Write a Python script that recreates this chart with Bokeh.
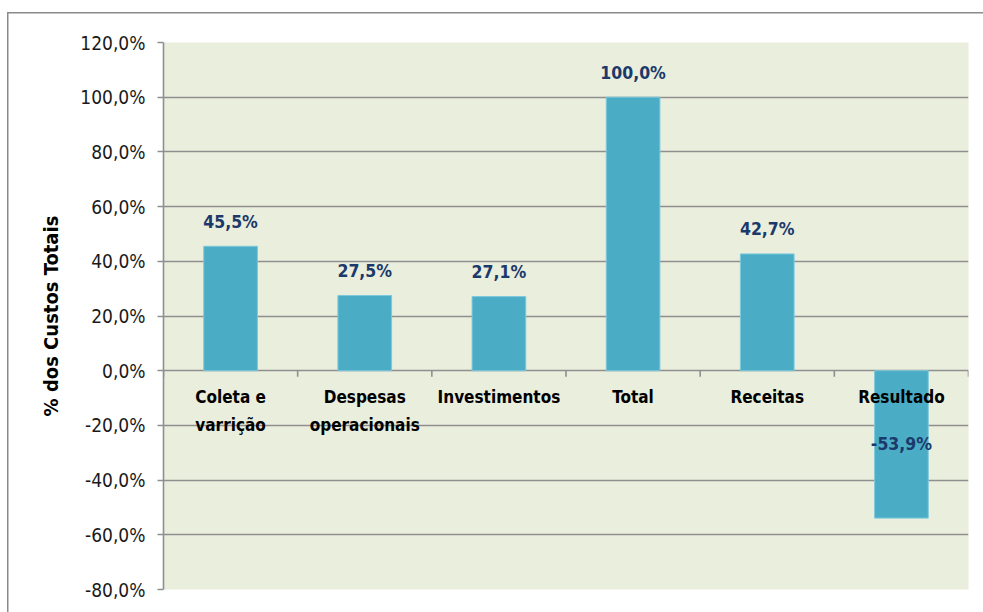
import numpy as np
from bokeh.plotting import figure
from bokeh.models import ColumnDataSource, Range1d, FixedTicker, CustomJSTickFormatter
from bokeh.core.properties import value
from bokeh.embed import file_html
from bokeh.resources import INLINE

# ---- data ----
categories = ["Coleta e\nvarrição", "Despesas\noperacionais", "Investimentos",
              "Total", "Receitas", "Resultado"]
values = [45.5, 27.5, 27.1, 100.0, 42.7, -53.9]
value_labels = ["45,5%", "27,5%", "27,1%", "100,0%", "42,7%", "-53,9%"]
y_ticks = [-80, -60, -40, -20, 0, 20, 40, 60, 80, 100, 120]
y_title = "% dos Custos Totais"

FONT = "DejaVu Sans Condensed"
BAR = "#4BACC6"
NAVY = "#1B3A6B"
GRID = "#8f8f8f"

n = len(categories)
xpos = np.arange(n) + 0.5
vals = np.array(values)
label_y = np.where(vals >= 0, vals + 9, vals / 2)

p = figure(width=983, height=612, output_backend="svg", toolbar_location=None,
           x_range=Range1d(0, n), y_range=Range1d(y_ticks[0], y_ticks[-1]),
           min_border_left=163, min_border_right=15, min_border_top=42,
           min_border_bottom=23)
p.background_fill_color = "#EAEEDD"
p.border_fill_color = None
p.outline_line_color = None
p.styles = {"background-color": "white",
            "box-shadow": "inset 7px 12px 0 0 white, inset 8.5px 13.5px 0 0 #8a8a8a"}

p.xaxis.visible = False
p.xgrid.visible = False

p.ygrid.ticker = FixedTicker(ticks=y_ticks)
p.ygrid.grid_line_color = GRID
p.ygrid.grid_line_width = 1.6

ya = p.yaxis[0]
ya.ticker = FixedTicker(ticks=y_ticks)
ya.formatter = CustomJSTickFormatter(
    code="return tick.toFixed(1).replace('.', ',') + '%';")
ya.major_tick_in = 0
ya.major_tick_out = 6
ya.minor_tick_line_color = None
ya.axis_line_color = GRID
ya.axis_line_width = 1.6
ya.major_tick_line_color = GRID
ya.major_tick_line_width = 1.6
ya.major_label_text_font = FONT
ya.major_label_text_font_size = "19px"
ya.major_label_text_color = "#1a1a1a"
ya.major_label_standoff = 12
ya.axis_label = y_title
ya.axis_label_text_font = FONT
ya.axis_label_text_font_style = "bold"
ya.axis_label_text_font_size = "20px"
ya.axis_label_text_color = "black"
ya.axis_label_standoff = 14

src = ColumnDataSource(dict(x=xpos, top=vals, cat=categories,
                            ly=label_y, lab=value_labels))

p.vbar(x="x", top="top", bottom=0, width=0.4, source=src,
       fill_color=BAR, line_color="#7cc9dc", line_width=1)

# category tick marks at boundaries below the zero line
bounds = np.arange(n + 1)
p.segment(x0=bounds, y0=np.zeros(n + 1), x1=bounds, y1=np.full(n + 1, -2.2),
          line_color=GRID, line_width=1.6)

# category labels
p.text(x="x", y=-6, text="cat", source=src, text_align="center",
       text_baseline="top", text_font=value(FONT), text_font_style="bold",
       text_font_size="17px", text_color="black", text_line_height=1.38)

# value labels
p.text(x="x", y="ly", text="lab", source=src, text_align="center",
       text_baseline="middle", text_font=value(FONT), text_font_style="bold",
       text_font_size="17.5px", text_color=NAVY)

open("out.html", "w").write(file_html(p, INLINE))
